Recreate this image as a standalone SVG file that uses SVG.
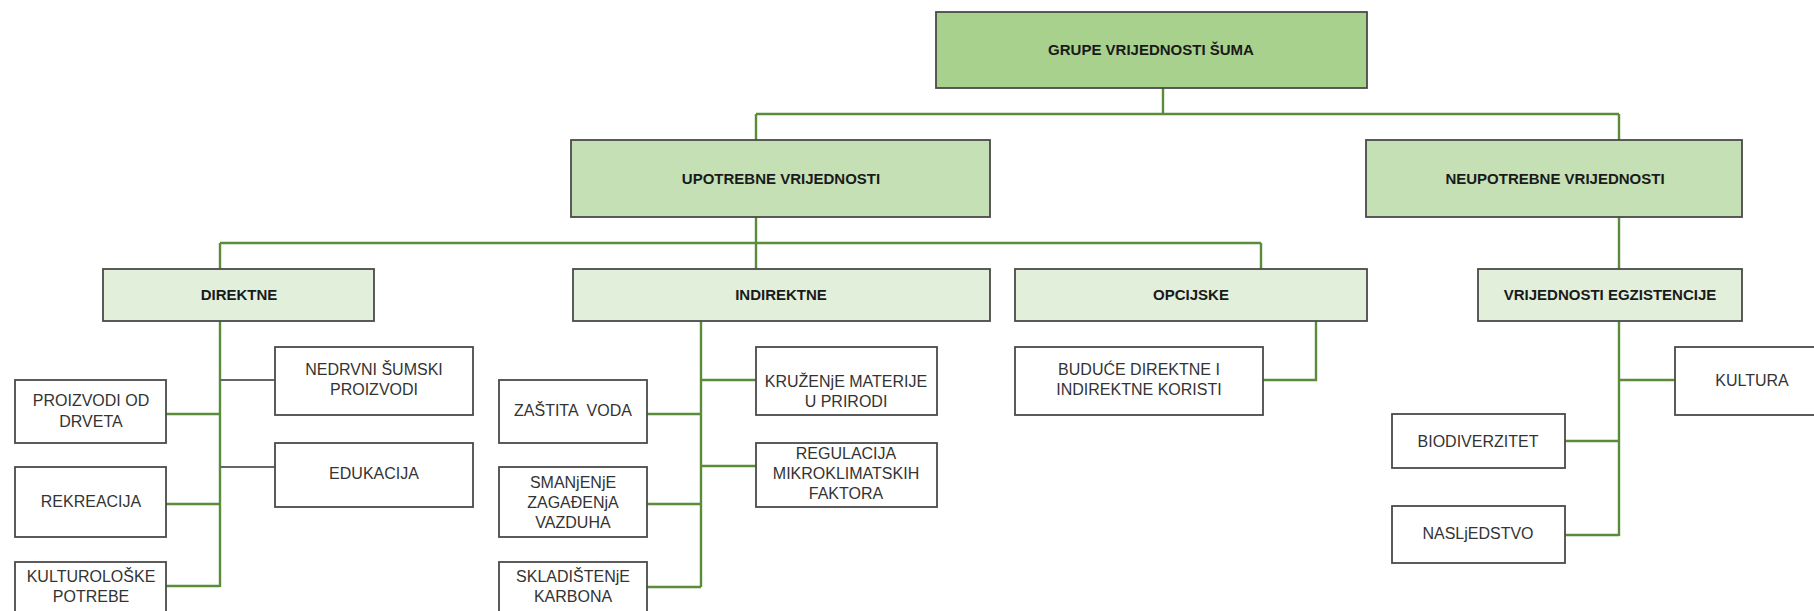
<svg xmlns="http://www.w3.org/2000/svg" width="1814" height="611" viewBox="0 0 1814 611">
<style>
  .box { stroke: #4a4a4a; stroke-width: 1.8; }
  .l0 { fill: #a9d18e; }
  .l1 { fill: #c5e0b4; }
  .l2 { fill: #e2efda; }
  .leaf { fill: #ffffff; }
  .hd { font-family: "Liberation Sans", Arial, sans-serif; font-size: 15px; font-weight: bold; fill: #1a1a1a; text-anchor: middle; }
  .tx { font-family: "Liberation Sans", Arial, sans-serif; font-size: 16px; fill: #333333; text-anchor: middle; white-space: pre; }
  .con { fill: none; stroke: #5b8c3a; stroke-width: 2.4; }
  .gray { fill: none; stroke: #666666; stroke-width: 1.8; }
</style>
<rect width="1814" height="611" fill="#ffffff"/>
<g id="connectors">
  <path class="con" d="M1163 88 V114 M756 114 H1619 M756 114 V140 M1619 114 V140"/>
  <path class="con" d="M756 217 V269 M220 243 H1261 M220 243 V269 M1261 243 V269"/>
  <path class="con" d="M1619 217 V269"/>
  <path class="con" d="M220 321 V587 M166 414 H220 M166 504 H220 M166 586 H220"/>
  <path class="gray" d="M220 380 H275 M220 467 H275"/>
  <path class="con" d="M701 321 V587 M647 414 H701 M647 504 H701 M647 587 H701 M701 380 H756 M701 466 H756"/>
  <path class="con" d="M1316 321 V380 H1263"/>
  <path class="con" d="M1619 321 V536 M1619 380 H1675 M1565 441 H1619 M1565 535 H1619"/>
</g>
<g id="grupe"><rect class="box l0" x="936" y="12" width="431" height="76"/><text class="hd" x="1151" y="55">GRUPE VRIJEDNOSTI ŠUMA</text></g>
<g id="upotrebne"><rect class="box l1" x="571" y="140" width="419" height="77"/><text class="hd" x="781" y="184">UPOTREBNE VRIJEDNOSTI</text></g>
<g id="neupotrebne"><rect class="box l1" x="1366" y="140" width="376" height="77"/><text class="hd" x="1555" y="184">NEUPOTREBNE VRIJEDNOSTI</text></g>
<g id="direktne"><rect class="box l2" x="103" y="269" width="271" height="52"/><text class="hd" x="239" y="300">DIREKTNE</text></g>
<g id="indirektne"><rect class="box l2" x="573" y="269" width="417" height="52"/><text class="hd" x="781" y="300">INDIREKTNE</text></g>
<g id="opcijske"><rect class="box l2" x="1015" y="269" width="352" height="52"/><text class="hd" x="1191" y="300">OPCIJSKE</text></g>
<g id="egzistencije"><rect class="box l2" x="1478" y="269" width="264" height="52"/><text class="hd" x="1610" y="300">VRIJEDNOSTI EGZISTENCIJE</text></g>
<g id="proizvodi"><rect class="box leaf" x="15" y="380" width="151" height="63"/><text class="tx" x="91" y="406">PROIZVODI OD</text><text class="tx" x="91" y="427">DRVETA</text></g>
<g id="rekreacija"><rect class="box leaf" x="15" y="467" width="151" height="70"/><text class="tx" x="91" y="507">REKREACIJA</text></g>
<g id="kulturoloske"><rect class="box leaf" x="15" y="562" width="151" height="60"/><text class="tx" x="91" y="582">KULTUROLOŠKE</text><text class="tx" x="91" y="602">POTREBE</text></g>
<g id="nedrvni"><rect class="box leaf" x="275" y="347" width="198" height="68"/><text class="tx" x="374" y="375">NEDRVNI ŠUMSKI</text><text class="tx" x="374" y="395">PROIZVODI</text></g>
<g id="edukacija"><rect class="box leaf" x="275" y="443" width="198" height="64"/><text class="tx" x="374" y="479">EDUKACIJA</text></g>
<g id="zastita"><rect class="box leaf" x="499" y="380" width="148" height="63"/><text class="tx" x="573" y="416">ZAŠTITA  VODA</text></g>
<g id="smanjenje"><rect class="box leaf" x="499" y="467" width="148" height="70"/><text class="tx" x="573" y="488">SMANjENjE</text><text class="tx" x="573" y="508">ZAGAĐENjA</text><text class="tx" x="573" y="528">VAZDUHA</text></g>
<g id="skladistenje"><rect class="box leaf" x="499" y="562" width="148" height="60"/><text class="tx" x="573" y="582">SKLADIŠTENjE</text><text class="tx" x="573" y="602">KARBONA</text></g>
<g id="kruzenje"><rect class="box leaf" x="756" y="347" width="181" height="68"/><text class="tx" x="846" y="387">KRUŽENjE MATERIJE</text><text class="tx" x="846" y="407">U PRIRODI</text></g>
<g id="regulacija"><rect class="box leaf" x="756" y="443" width="181" height="64"/><text class="tx" x="846" y="459">REGULACIJA</text><text class="tx" x="846" y="479">MIKROKLIMATSKIH</text><text class="tx" x="846" y="499">FAKTORA</text></g>
<g id="buduce"><rect class="box leaf" x="1015" y="347" width="248" height="68"/><text class="tx" x="1139" y="375">BUDUĆE DIREKTNE I</text><text class="tx" x="1139" y="395">INDIREKTNE KORISTI</text></g>
<g id="kultura"><rect class="box leaf" x="1675" y="347" width="160" height="68"/><text class="tx" x="1752" y="386">KULTURA</text></g>
<g id="biodiverzitet"><rect class="box leaf" x="1392" y="414" width="173" height="54"/><text class="tx" x="1478" y="447">BIODIVERZITET</text></g>
<g id="nasljedstvo"><rect class="box leaf" x="1392" y="506" width="173" height="57"/><text class="tx" x="1478" y="539">NASLjEDSTVO</text></g>
</svg>
